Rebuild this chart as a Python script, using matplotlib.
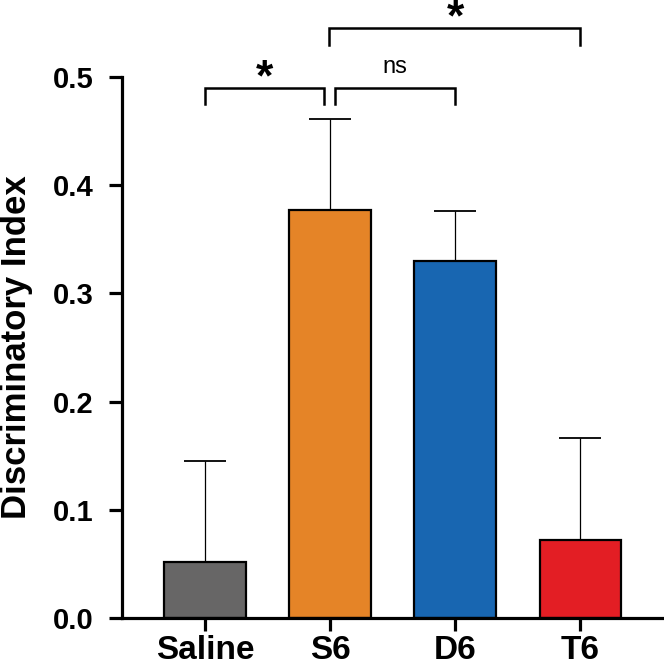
import matplotlib.pyplot as plt

# Data
groups = ['Saline', 'S6', 'D6', 'T6']
means = [0.0515, 0.377, 0.330, 0.072]
upper = [0.145, 0.461, 0.376, 0.166]   # top of error bar
colors = ['#676666', '#E58427', '#1866B1', '#E31E24']

errs = [u - m for u, m in zip(upper, means)]

plt.rcParams['font.family'] = ['Liberation Sans', 'DejaVu Sans']

fig = plt.figure(figsize=(6.64, 6.71), dpi=100)
ax = fig.add_axes([0.1837, 0.079, 0.8163, 0.806])

x = list(range(len(groups)))
ax.bar(x, means, width=0.65, color=colors, edgecolor='black', linewidth=1.6, zorder=2)
ax.errorbar(x, means, yerr=[[0] * len(errs), errs], fmt='none', ecolor='black',
            elinewidth=0.9, capsize=15, capthick=1.3, zorder=1)

ax.set_xlim(-0.664, 3.67)
ax.set_ylim(0, 0.5)
ax.set_yticks([0.0, 0.1, 0.2, 0.3, 0.4, 0.5])
ax.set_yticklabels(['0.0', '0.1', '0.2', '0.3', '0.4', '0.5'])
ax.set_xticks(x)
ax.set_xticklabels(groups)

for s in ['top', 'right']:
    ax.spines[s].set_visible(False)
for s in ['left', 'bottom']:
    ax.spines[s].set_linewidth(2.3)

ax.tick_params(axis='both', width=2.3, length=9.5)
ax.tick_params(axis='y', labelsize=21, pad=11)
ax.tick_params(axis='x', labelsize=24, pad=3)
for lbl in ax.get_xticklabels() + ax.get_yticklabels():
    lbl.set_fontweight('bold')

ax.set_ylabel('Discriminatory Index', fontsize=25, fontweight='bold', labelpad=14)


# significance brackets
def bracket(x1, x2, y, h):
    ax.plot([x1, x1, x2, x2], [y - h, y, y, y - h], color='black', lw=1.8,
            clip_on=False, solid_joinstyle='miter')


bracket(0.0, 0.95, 0.490, 0.015)
bracket(1.04, 2.0, 0.490, 0.015)
bracket(0.99, 3.0, 0.545, 0.015)

ax.text(0.475, 0.488, '*', ha='center', va='baseline', fontsize=32,
        fontweight='bold', clip_on=False)
ax.text(1.52, 0.504, 'ns', ha='center', va='baseline', fontsize=17,
        clip_on=False)
ax.text(2.0, 0.543, '*', ha='center', va='baseline', fontsize=32,
        fontweight='bold', clip_on=False)

fig.savefig('out.png', dpi=100)
